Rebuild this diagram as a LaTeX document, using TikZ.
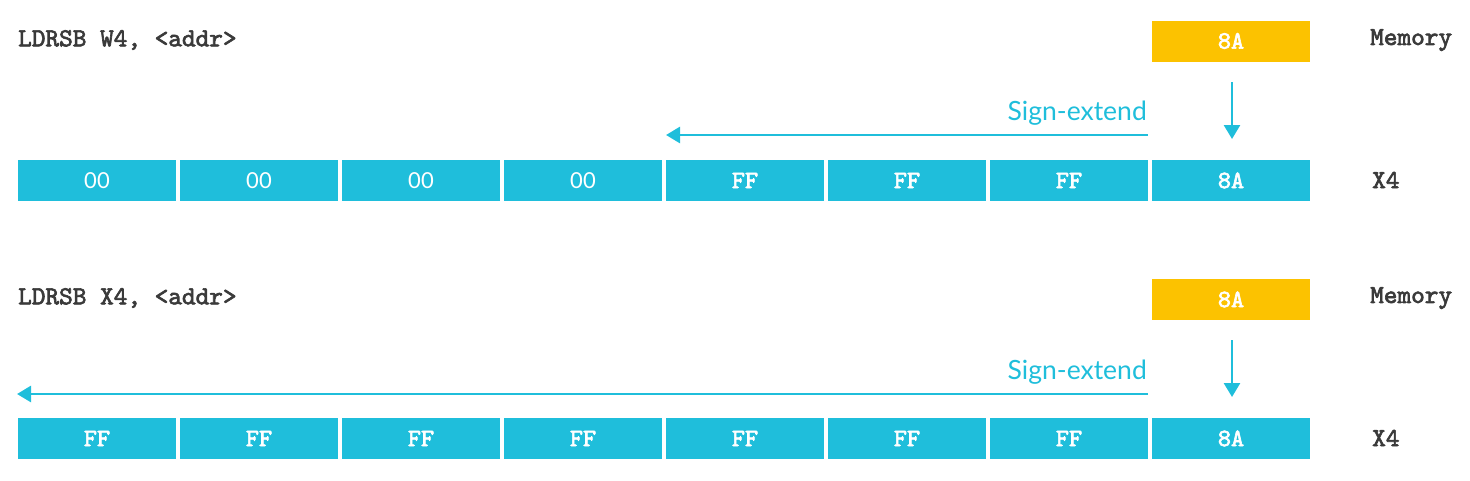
\documentclass[tikz,border=0pt]{standalone}
\usepackage{fontspec}
\setmainfont{Lato}
\setmonofont{lmmono10-regular.otf}[BoldFont=lmmono10-regular.otf, BoldFeatures={FakeBold=2.5}]
\newfontfamily\latofont{Lato}
\usetikzlibrary{arrows.meta}
\definecolor{cyanc}{HTML}{1FBEDB}
\definecolor{yellowc}{HTML}{FCC200}
\definecolor{labelc}{HTML}{3A3A3A}
\tikzset{
  cell/.style={fill=cyanc, draw=none, minimum width=158pt, minimum height=41pt, inner sep=0pt, text=white, font=\fontsize{25}{25}\selectfont\ttfamily\bfseries},
  zcell/.style={cell, font=\fontsize{22}{22}\selectfont\latofont},
  mem/.style={cell, fill=yellowc},
  lbl/.style={text=labelc, font=\fontsize{26}{26}\selectfont\ttfamily\bfseries, inner sep=0pt},
  sign/.style={text=cyanc, font=\fontsize{26.5}{26.5}\selectfont\latofont, inner sep=0pt},
  arr/.style={draw=cyanc, line width=2.7pt, -{Triangle[length=14pt,width=16pt]}}
}
\begin{document}
\begin{tikzpicture}[x=1pt,y=-1pt]
\useasboundingbox (0,0) rectangle (1470,480);
% ---------- top ----------
\node[lbl, anchor=west] (t1) at (18,40) {LDRSB W4, <addr>};
\node[mem] (m1) at (1231,41) {8A};
\node[lbl, anchor=west] (ml1) at (1370,40) {Memory};
\foreach \i/\t/\s in {0/00/zcell,1/00/zcell,2/00/zcell,3/00/zcell,4/FF/cell,5/FF/cell,6/FF/cell,7/8A/cell}{
  \node[\s] (a\i) at ({97+162*\i},180.5) {\t};
}
\node[lbl, anchor=west] (x1) at (1372,180) {X4};
\coordinate (d1s) at (1232,82);
\coordinate (d1e) at (1232,139);
\draw[arr] (d1s) -- (d1e);
\coordinate (h1s) at (1148,135);
\coordinate (h1e) at (666,135);
\draw[arr] (h1s) -- (h1e);
\node[sign, anchor=south east] (s1) at (1147,126) {Sign-extend};
% ---------- bottom ----------
\node[lbl, anchor=west] (t2) at (18,298) {LDRSB X4, <addr>};
\node[mem] (m2) at (1231,299.5) {8A};
\node[lbl, anchor=west] (ml2) at (1370,298) {Memory};
\foreach \i/\t in {0/FF,1/FF,2/FF,3/FF,4/FF,5/FF,6/FF,7/8A}{
  \node[cell] (b\i) at ({97+162*\i},438.5) {\t};
}
\node[lbl, anchor=west] (x2) at (1372,438) {X4};
\coordinate (d2s) at (1232,340);
\coordinate (d2e) at (1232,397);
\draw[arr] (d2s) -- (d2e);
\coordinate (h2s) at (1148,394);
\coordinate (h2e) at (17,394);
\draw[arr] (h2s) -- (h2e);
\node[sign, anchor=south east] (s2) at (1147,385) {Sign-extend};
\end{tikzpicture}
\end{document}
